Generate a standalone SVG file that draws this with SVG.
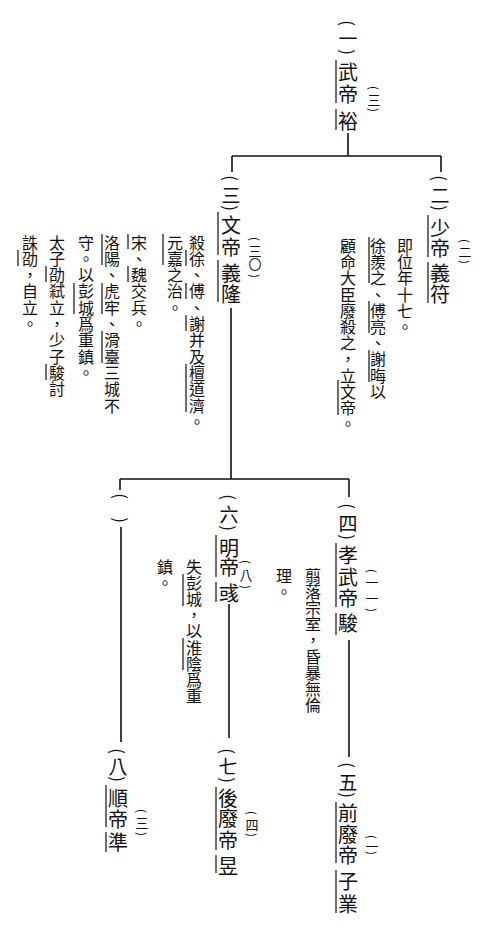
<svg xmlns="http://www.w3.org/2000/svg" width="493" height="939" viewBox="0 0 493 939">
<style>
text{font-family:"Noto Sans CJK TC","Noto Sans CJK JP",sans-serif;fill:#111;text-anchor:middle;dominant-baseline:central}
.n{font-size:20px}
.p{font-size:19px}
.pp{font-size:17px}
.s{font-size:13px}
.sp{font-size:11.5px}
.t{font-size:16px}
.c{stroke:#111;stroke-width:1.6;fill:none}
.m{stroke:#333;stroke-width:1.4}
</style>
<rect width="493" height="939" fill="#fff"/>
<g id="connectors">
<path class="c" d="M348,133V156M232,156H441M441,156V172M232,156V172M231,308V479M120,479H349M349,479V497M120,479V490M121,527V742M229,604V738M349,640V757"/>
</g>
<g id="wudi-yu">
<text class="pp" x="348" y="23" transform="rotate(90 348 23)">(</text>
<text class="p" x="348" y="37">一</text>
<text class="pp" x="348" y="52" transform="rotate(90 348 52)">)</text>
<text class="n" x="348 348 348" y="71 93.5 120">武帝裕</text>
<text class="sp" x="374" y="88" transform="rotate(90 374 88)">(</text>
<text class="s" x="374" y="99">三</text>
<text class="sp" x="374" y="110" transform="rotate(90 374 110)">)</text>
<line class="m" x1="336" y1="60" x2="336" y2="103"/>
<line class="m" x1="336" y1="109" x2="336" y2="130"/>
</g>
<g id="shaodi-yifu">
<text class="pp" x="440" y="178" transform="rotate(90 440 178)">(</text>
<text class="p" x="440" y="194">二</text>
<text class="pp" x="440" y="208" transform="rotate(90 440 208)">)</text>
<text class="n" x="440 440 440 440" y="227 247.5 272.5 293">少帝義符</text>
<text class="sp" x="465" y="241" transform="rotate(90 465 241)">(</text>
<text class="s" x="465" y="251.5">二</text>
<text class="sp" x="465" y="262" transform="rotate(90 465 262)">)</text>
<line class="m" x1="428" y1="215" x2="428" y2="257"/>
<line class="m" x1="428" y1="262" x2="428" y2="303"/>
<text class="t" x="405 405 405 405 405 405" y="245 261.2 277.4 293.6 309.8 326">即位年十七。</text>
<text class="t" x="378 378 378 378 378 378 378 378 378 378" y="245 261.2 277.4 293.6 309.8 326 342.2 358.4 374.6 390.8">徐羨之、傅亮、謝晦以</text>
<text class="t" x="348 348 348 348 348 348 348 348 348 348 348 348" y="245 261.2 277.4 293.6 309.8 326 342.2 358.4 374.6 390.8 407 423.2">顧命大臣廢殺之，立文帝。</text>
<line class="m" x1="369" y1="237" x2="369" y2="283"/>
<line class="m" x1="369" y1="301" x2="369" y2="333"/>
<line class="m" x1="369" y1="350" x2="369" y2="382"/>
<line class="m" x1="338" y1="380" x2="338" y2="415"/>
</g>
<g id="wendi-yilong">
<text class="pp" x="231" y="178" transform="rotate(90 231 178)">(</text>
<text class="p" x="231" y="194">三</text>
<text class="pp" x="231" y="208" transform="rotate(90 231 208)">)</text>
<text class="n" x="231 231 231 231" y="224 246 272.5 293">文帝義隆</text>
<text class="sp" x="255" y="239" transform="rotate(90 255 239)">(</text>
<text class="s" x="255 255" y="250 263">三〇</text>
<text class="sp" x="255" y="276" transform="rotate(90 255 276)">)</text>
<line class="m" x1="218" y1="212" x2="218" y2="255"/>
<line class="m" x1="218" y1="260" x2="218" y2="302"/>
<text class="t" x="197 197 197 197 197 197 197 197 197 197 197 197" y="241.5 257.8 274.1 290.4 306.7 323 339.3 355.6 371.9 388.2 404.5 420.8">殺徐、傅、謝并及檀道濟。</text>
<text class="t" x="175 175 175 175 175" y="241.5 257.8 274.1 290.4 306.7">元嘉之治。</text>
<text class="t" x="139 139 139 139 139 139" y="241.5 257.8 274.1 290.4 306.7 323">宋、魏交兵。</text>
<text class="t" x="112 112 112 112 112 112 112 112 112 112 112" y="241.5 257.8 274.1 290.4 306.7 323 339.3 355.6 371.9 388.2 404.5">洛陽、虎牢、滑臺三城不</text>
<text class="t" x="86 86 86 86 86 86 86 86 86" y="241.5 257.8 274.1 290.4 306.7 323 339.3 355.6 371.9">守。以彭城爲重鎮。</text>
<text class="t" x="57 57 57 57 57 57 57 57 57 57" y="241.5 257.8 274.1 290.4 306.7 323 339.3 355.6 371.9 388.2">太子劭弒立，少子駿討</text>
<text class="t" x="30 30 30 30 30 30" y="241.5 257.8 274.1 290.4 306.7 323">誅劭，自立。</text>
<line class="m" x1="186" y1="250" x2="186" y2="266"/>
<line class="m" x1="186" y1="283" x2="186" y2="299"/>
<line class="m" x1="186" y1="315" x2="186" y2="331"/>
<line class="m" x1="186" y1="364" x2="186" y2="412"/>
<line class="m" x1="163" y1="234" x2="163" y2="265"/>
<line class="m" x1="128" y1="234" x2="128" y2="249"/>
<line class="m" x1="128" y1="266" x2="128" y2="282"/>
<line class="m" x1="102" y1="234" x2="102" y2="265"/>
<line class="m" x1="102" y1="283" x2="102" y2="314"/>
<line class="m" x1="102" y1="331" x2="102" y2="363"/>
<line class="m" x1="74" y1="283" x2="74" y2="314"/>
<line class="m" x1="46" y1="266" x2="46" y2="282"/>
<line class="m" x1="46" y1="364" x2="46" y2="380"/>
<line class="m" x1="18" y1="250" x2="18" y2="266"/>
</g>
<g id="xiaowudi-jun">
<text class="pp" x="348" y="506" transform="rotate(90 348 506)">(</text>
<text class="p" x="348" y="522">四</text>
<text class="pp" x="348" y="537" transform="rotate(90 348 537)">)</text>
<text class="n" x="348 348 348 348" y="554 576 597 622.5">孝武帝駿</text>
<text class="sp" x="372" y="571" transform="rotate(90 372 571)">(</text>
<text class="s" x="372 372" y="581 597">一一</text>
<text class="sp" x="372" y="610" transform="rotate(90 372 610)">)</text>
<line class="m" x1="336" y1="543" x2="336" y2="607"/>
<line class="m" x1="336" y1="613" x2="336" y2="635"/>
<text class="t" x="313 313 313 313 313 313 313 313 313" y="575 591.1 607.2 623.3 639.4 655.5 671.6 687.7 703.8">翦落宗室，昏暴無倫</text>
<text class="t" x="284 284" y="575 591.1">理。</text>
</g>
<g id="mingdi-yu">
<text class="pp" x="229" y="497" transform="rotate(90 229 497)">(</text>
<text class="p" x="229" y="513">六</text>
<text class="pp" x="229" y="528" transform="rotate(90 229 528)">)</text>
<text class="n" x="229 229 229" y="547 566 592">明帝彧</text>
<text class="sp" x="246" y="562" transform="rotate(90 246 562)">(</text>
<text class="s" x="246" y="574">八</text>
<text class="sp" x="246" y="587" transform="rotate(90 246 587)">)</text>
<line class="m" x1="216" y1="535" x2="216" y2="577"/>
<line class="m" x1="216" y1="582" x2="216" y2="602"/>
<text class="t" x="194 194 194 194 194 194 194 194 194" y="566 582.1 598.2 614.3 630.4 646.5 662.6 678.7 694.8">失彭城，以淮陰爲重</text>
<text class="t" x="165 165" y="566 582.1">鎮。</text>
<line class="m" x1="183" y1="574" x2="183" y2="606"/>
<line class="m" x1="183" y1="638" x2="183" y2="670"/>
</g>
<g id="unnamed">
<text class="pp" x="121" y="496" transform="rotate(90 121 496)">(</text>
<text class="pp" x="121" y="520" transform="rotate(90 121 520)">)</text>
</g>
<g id="qianfeidi-ziye">
<text class="pp" x="348" y="765" transform="rotate(90 348 765)">(</text>
<text class="p" x="348" y="781">五</text>
<text class="pp" x="348" y="795" transform="rotate(90 348 795)">)</text>
<text class="n" x="348 348 348 348 348" y="812 833 854 880 903">前廢帝子業</text>
<text class="sp" x="372" y="837" transform="rotate(90 372 837)">(</text>
<text class="s" x="372" y="845">一</text>
<text class="sp" x="372" y="853" transform="rotate(90 372 853)">)</text>
<line class="m" x1="336" y1="802" x2="336" y2="863"/>
<line class="m" x1="336" y1="870" x2="336" y2="913"/>
</g>
<g id="houfeidi-yu">
<text class="pp" x="228" y="751" transform="rotate(90 228 751)">(</text>
<text class="p" x="228" y="765">七</text>
<text class="pp" x="228" y="780" transform="rotate(90 228 780)">)</text>
<text class="n" x="228 228 228 228" y="797 817.5 839 865">後廢帝昱</text>
<text class="sp" x="252" y="813" transform="rotate(90 252 813)">(</text>
<text class="s" x="252" y="824">四</text>
<text class="sp" x="252" y="835" transform="rotate(90 252 835)">)</text>
<line class="m" x1="216" y1="787" x2="216" y2="850"/>
<line class="m" x1="216" y1="855" x2="216" y2="873"/>
</g>
<g id="shundi-zhun">
<text class="pp" x="118" y="751" transform="rotate(90 118 751)">(</text>
<text class="p" x="118" y="765">八</text>
<text class="pp" x="118" y="779" transform="rotate(90 118 779)">)</text>
<text class="n" x="118 118 118" y="797 818 841">順帝準</text>
<text class="sp" x="142" y="811" transform="rotate(90 142 811)">(</text>
<text class="s" x="142" y="822">三</text>
<text class="sp" x="142" y="834" transform="rotate(90 142 834)">)</text>
<line class="m" x1="106" y1="785" x2="106" y2="827"/>
<line class="m" x1="106" y1="832" x2="106" y2="852"/>
</g>
</svg>
